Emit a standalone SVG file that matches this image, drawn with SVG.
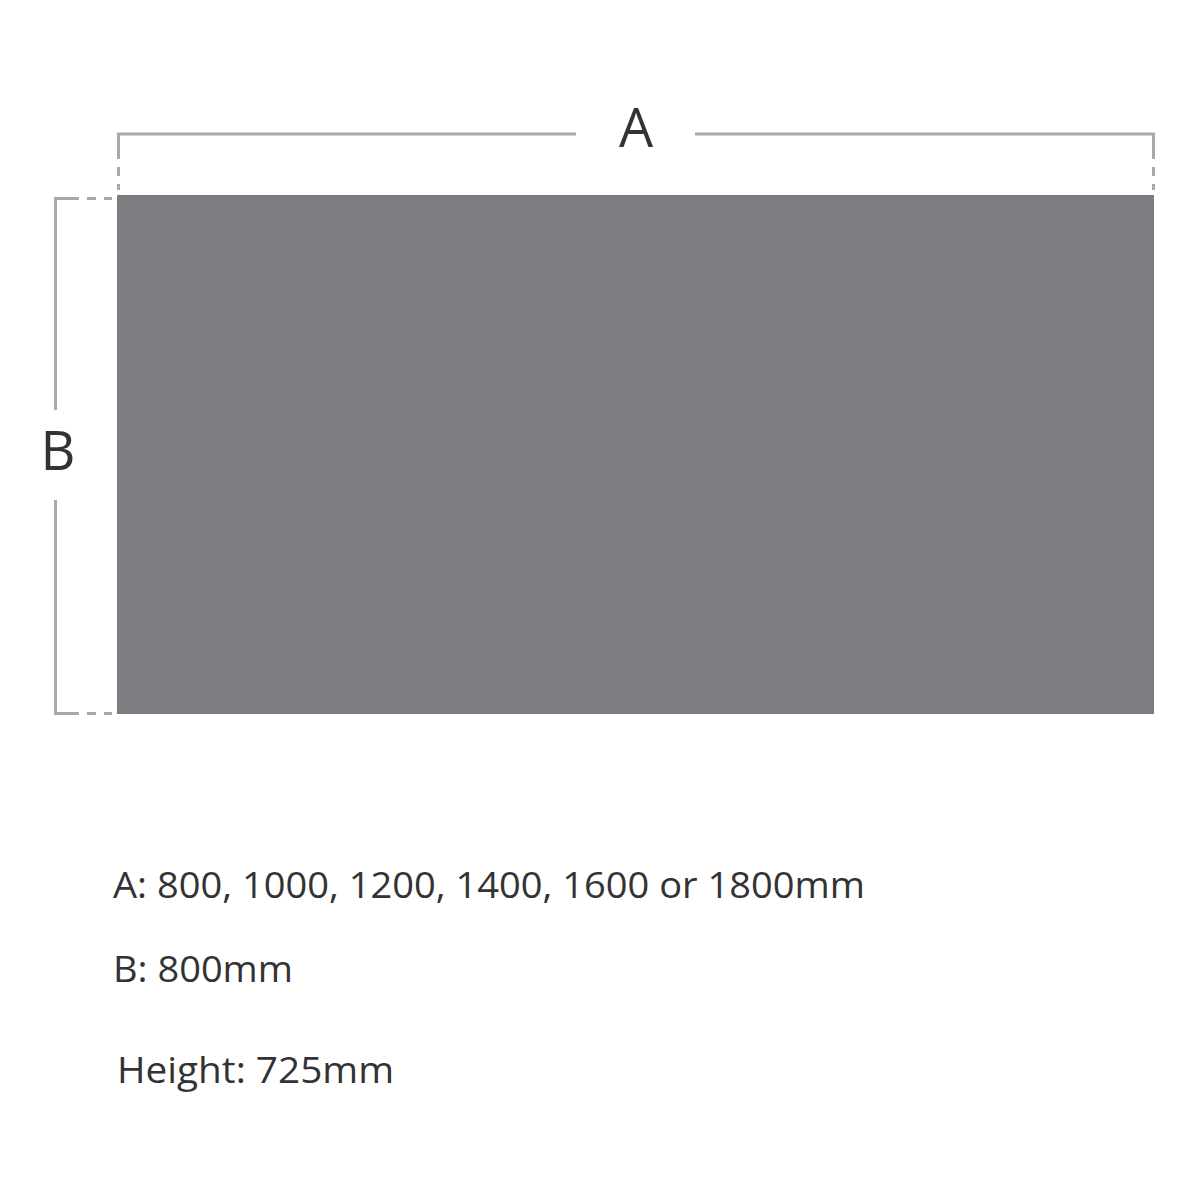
<svg xmlns="http://www.w3.org/2000/svg" width="1200" height="1200" viewBox="0 0 1200 1200">
<style>
.dim{stroke:#a9a9a9;stroke-width:3;fill:none}
.dash{stroke:#a9a9a9;stroke-width:3;fill:none;stroke-dasharray:9 8}
.lbl{font-family:"Open Sans","Liberation Sans",sans-serif;fill:#333;font-size:54px;text-anchor:middle}
.txt{font-family:"Open Sans","Liberation Sans",sans-serif;fill:#333;font-size:37px}
</style>
<rect width="1200" height="1200" fill="#fff"/>
<g id="connectors">
<path class="dim" d="M118.5 150 V134 H576 M695 134 H1153.5 V150"/>
<path class="dash" d="M118.5 150 V190 M1153.5 150 V190"/>
<path class="dim" d="M70 198.5 H55.5 V410 M55.5 500 V713.5 H70"/>
<path class="dash" d="M70 198.5 H112 M70 713.5 H112"/>
</g>
<g id="table">
<rect x="117" y="195" width="1037" height="519" fill="#7d7c80"/>
</g>
<g id="label-a"><text class="lbl" x="636" y="147">A</text></g>
<g id="label-b"><text class="lbl" x="58" y="470">B</text></g>
<g id="specs">
<text class="txt" x="113" y="898" textLength="752" lengthAdjust="spacingAndGlyphs">A: 800, 1000, 1200, 1400, 1600 or 1800mm</text>
<text class="txt" x="113" y="982" textLength="180" lengthAdjust="spacingAndGlyphs">B: 800mm</text>
<text class="txt" x="117" y="1083" textLength="277" lengthAdjust="spacingAndGlyphs">Height: 725mm</text>
</g>
</svg>
